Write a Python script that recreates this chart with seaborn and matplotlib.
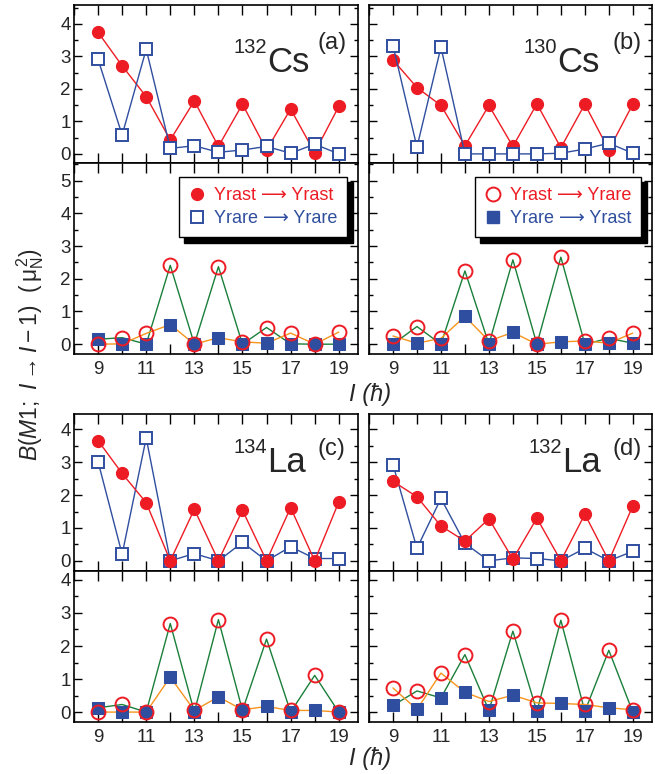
import numpy as np
import matplotlib
matplotlib.use("Agg")
import matplotlib.pyplot as plt
import seaborn as sns
from matplotlib.lines import Line2D
from matplotlib.ticker import MultipleLocator, FuncFormatter

sns.set_theme(style="ticks")
plt.rcParams["font.family"] = ["Liberation Sans", "DejaVu Sans"]
plt.rcParams["mathtext.fontset"] = "custom"
plt.rcParams["mathtext.rm"] = "Liberation Sans"
plt.rcParams["mathtext.it"] = "Liberation Sans:italic"
plt.rcParams["mathtext.bf"] = "Liberation Sans:bold"

# ---------------- data ----------------
spin = list(range(9, 20))

# upper panels: Yrast->Yrast (filled circles), Yrare->Yrare (open squares)
cs132_yy = [3.74, 2.71, 1.76, 0.43, 1.63, 0.23, 1.53, 0.12, 1.38, 0.04, 1.46]
cs132_rr = [2.91, 0.58, 3.22, 0.17, 0.25, 0.05, 0.12, 0.23, 0.02, 0.30, 0.00]
cs130_yy = [2.89, 2.04, 1.49, 0.25, 1.49, 0.23, 1.54, 0.19, 1.53, 0.12, 1.53]
cs130_rr = [3.33, 0.21, 3.28, 0.00, 0.00, 0.00, 0.00, 0.02, 0.15, 0.33, 0.02]
la134_yy = [3.66, 2.66, 1.77, 0.00, 1.57, 0.00, 1.54, 0.00, 1.62, 0.00, 1.79]
la134_rr = [3.02, 0.20, 3.74, 0.00, 0.22, 0.00, 0.56, 0.00, 0.43, 0.07, 0.07]
la132_yy = [2.42, 1.95, 1.06, 0.60, 1.28, 0.05, 1.30, 0.00, 1.42, 0.00, 1.67]
la132_rr = [2.93, 0.38, 1.90, 0.53, 0.00, 0.09, 0.07, 0.00, 0.38, 0.00, 0.29]

# lower panels: Yrast->Yrare (open circles), Yrare->Yrast (filled squares)
cs132_yr = [0.00, 0.20, 0.33, 2.41, 0.00, 2.37, 0.07, 0.51, 0.34, 0.00, 0.37]
cs132_ry = [0.15, 0.01, 0.00, 0.60, 0.00, 0.20, 0.00, 0.03, 0.01, 0.00, 0.00]
cs130_yr = [0.25, 0.54, 0.18, 2.24, 0.10, 2.58, 0.00, 2.66, 0.10, 0.18, 0.34]
cs130_ry = [0.00, 0.03, 0.00, 0.85, 0.00, 0.36, 0.00, 0.07, 0.00, 0.03, 0.03]
la134_yr = [0.00, 0.23, 0.00, 2.68, 0.05, 2.80, 0.07, 2.21, 0.05, 1.11, 0.00]
la134_ry = [0.13, 0.00, 0.00, 1.06, 0.00, 0.46, 0.05, 0.17, 0.00, 0.05, 0.00]
la132_yr = [0.73, 0.64, 1.18, 1.74, 0.32, 2.45, 0.28, 2.78, 0.23, 1.87, 0.07]
la132_ry = [0.20, 0.08, 0.43, 0.60, 0.05, 0.51, 0.02, 0.26, 0.02, 0.13, 0.00]

nuclei = [("132", "Cs", "(a)"), ("130", "Cs", "(b)"), ("134", "La", "(c)"), ("132", "La", "(d)")]
legend_labels_a = ["Yrast \u27F6 Yrast", "Yrare \u27F6 Yrare"]
legend_labels_b = ["Yrast \u27F6 Yrare", "Yrare \u27F6 Yrast"]

RED = "#ED1C24"
BLUE = "#2F4E9F"
GREEN = "#1B7F3A"
ORANGE = "#F7941D"

# ---------------- figure ----------------
W, H = 655, 774
fig = plt.figure(figsize=(W / 100, H / 100), dpi=100)


def px_axes(x0, x1, y0, y1):
    return fig.add_axes([x0 / W, (H - y1) / H, (x1 - x0) / W, (y1 - y0) / H])


cols = [(74, 358), (369, 652)]
rows = [((5, 163), (163, 354), (-0.28, 4.58), (-0.30, 5.54)),
        ((414, 571), (571, 722), (-0.31, 4.47), (-0.30, 4.27))]

TICK_FS = 13.5


def style(ax, ylim, show_x, show_y):
    ax.set_xlim(8.0, 19.8)
    ax.set_ylim(*ylim)
    ax.xaxis.set_major_locator(MultipleLocator(1))
    ax.xaxis.set_major_formatter(FuncFormatter(
        lambda v, p: f"{int(round(v))}" if int(round(v)) % 2 == 1 else ""))
    ax.yaxis.set_major_locator(MultipleLocator(1))
    ax.yaxis.set_minor_locator(MultipleLocator(0.5))
    ax.tick_params(which="both", direction="in", top=True, right=True,
                   width=1.0, color="black", labelsize=TICK_FS,
                   labelbottom=show_x, labelleft=show_y)
    ax.tick_params(axis="x", which="major", length=7, pad=5)
    ax.tick_params(axis="y", which="major", length=6, pad=2.5)
    ax.tick_params(axis="y", which="minor", length=3)
    for s in ax.spines.values():
        s.set_linewidth(1.2)
        s.set_color("black")
    ax.set_xlabel("")
    ax.set_ylabel("")
    ax.set_facecolor("white")


def upper(ax, circ, sq, squares_on_top):
    zc, zs = (3, 4) if squares_on_top else (4, 3)
    sns.lineplot(x=spin, y=circ, ax=ax, color=RED, lw=1.0, marker="o", ms=8.5,
                 mfc=RED, mec=RED, mew=1.0, zorder=zc)
    sns.lineplot(x=spin, y=sq, ax=ax, color=BLUE, lw=1.0, marker="s", ms=8,
                 mfc="white", mec=BLUE, mew=1.4, zorder=zs)


def lower(ax, circ, sq):
    circ = np.asarray(circ)
    sq = np.asarray(sq)
    odd = np.array(spin) % 2 == 1
    green = np.where(odd, sq, circ)
    orange = np.where(odd, circ, sq)
    sns.lineplot(x=spin, y=green, ax=ax, color=GREEN, lw=1.0, zorder=2)
    sns.lineplot(x=spin, y=orange, ax=ax, color=ORANGE, lw=1.0, zorder=2)
    sns.lineplot(x=spin, y=sq, ax=ax, color=BLUE, lw=0, marker="s", ms=8,
                 mfc=BLUE, mec=BLUE, zorder=3)
    sns.lineplot(x=spin, y=circ, ax=ax, color=RED, lw=0, marker="o", ms=10,
                 mfc="none", mec=RED, mew=1.4, zorder=4)


upper_data = [(cs132_yy, cs132_rr), (cs130_yy, cs130_rr), (la134_yy, la134_rr), (la132_yy, la132_rr)]
lower_data = [(cs132_yr, cs132_ry), (cs130_yr, cs130_ry), (la134_yr, la134_ry), (la132_yr, la132_ry)]

# label positions (axes fraction): element-left x, baseline y for big symbol, superscript, panel tag
label_pos = [
    (0.680, 0.575, 0.696, 0.856, 0.720),
    (0.664, 0.575, 0.696, 0.859, 0.720),
    (0.680, 0.630, 0.752, 0.856, 0.739),
    (0.682, 0.630, 0.752, 0.859, 0.739),
]

idx = 0
lower_axes = []
for r, (uy, ly, ulim, llim) in enumerate(rows):
    for c, (x0, x1) in enumerate(cols):
        axu = px_axes(x0, x1, uy[0], uy[1])
        axl = px_axes(x0, x1, ly[0], ly[1])
        upper(axu, *upper_data[idx], squares_on_top=(r == 0))
        lower(axl, *lower_data[idx])
        style(axu, ulim, False, c == 0)
        style(axl, llim, True, c == 0)
        mass, sym, tag = nuclei[idx]
        xs, yb, ysup, xt, yt = label_pos[idx]
        axu.text(xs, yb, sym, transform=axu.transAxes, fontsize=25,
                 ha="left", va="baseline", zorder=10)
        axu.text(xs, ysup, mass, transform=axu.transAxes, fontsize=14.5,
                 ha="right", va="baseline", zorder=10)
        axu.text(xt, yt, tag, transform=axu.transAxes, fontsize=17,
                 ha="left", va="baseline", zorder=10)
        lower_axes.append(axl)
        idx += 1

# legends
legend_specs = [
    (lower_axes[0],
     [Line2D([], [], ls="none", marker="o", ms=8.5, mfc=RED, mec=RED),
      Line2D([], [], ls="none", marker="s", ms=8, mfc="white", mec=BLUE, mew=1.4)],
     legend_labels_a),
    (lower_axes[1],
     [Line2D([], [], ls="none", marker="o", ms=10, mfc="none", mec=RED, mew=1.4),
      Line2D([], [], ls="none", marker="s", ms=8, mfc=BLUE, mec=BLUE)],
     legend_labels_b),
]
for ax, handles, labels in legend_specs:
    leg = ax.legend(handles, labels, loc="upper right", bbox_to_anchor=(0.962, 0.927),
                    fontsize=13, frameon=True, fancybox=False, framealpha=1,
                    edgecolor="black", handlelength=0.9, handletextpad=0.5,
                    borderpad=0.55, labelspacing=0.35, borderaxespad=0,
                    shadow={"color": "black", "alpha": 1, "ox": 4, "oy": -4})
    leg.get_frame().set_linewidth(1.0)
    leg.set_zorder(20)
    for t, col in zip(leg.get_texts(), [RED, BLUE]):
        t.set_color(col)

# axis labels
for yc in (394, 759):
    fig.text(370 / W, (H - yc) / H, "I (\u0127)", fontsize=17, style="italic",
             ha="center", va="center")
fig.text(30 / W, (H - 355) / H,
         r"$\mathit{B}(\mathit{M1};\ \mathit{I}\rightarrow\mathit{I}-\mathit{1})\ \ (\,\mathrm{μ}_{\mathrm{N}}^{\,2})$",
         fontsize=16.5, rotation=90, ha="center", va="center")

fig.savefig("out.png", dpi=100)
